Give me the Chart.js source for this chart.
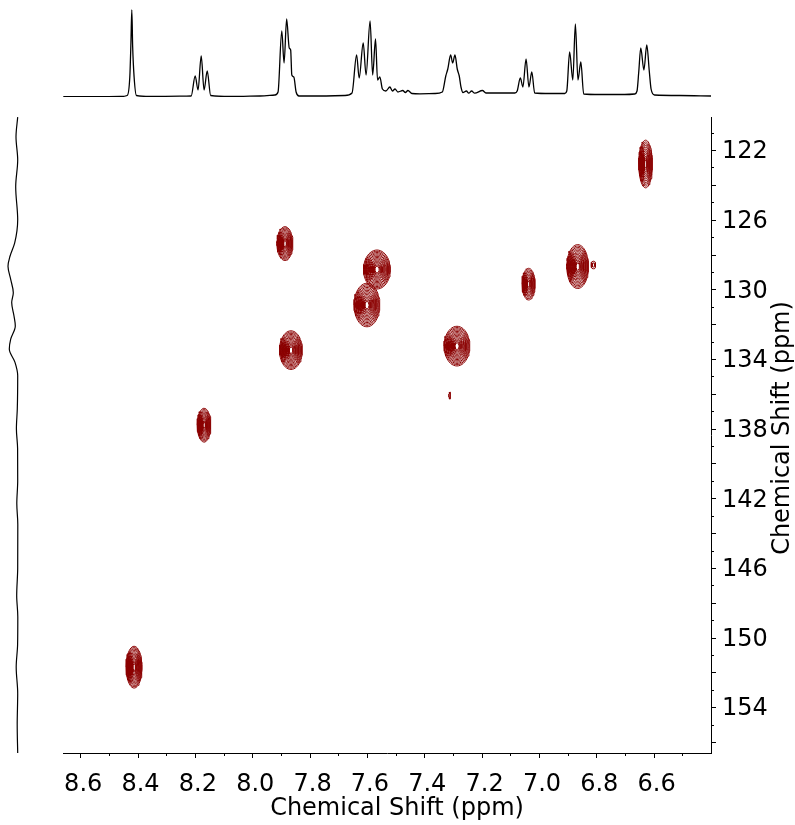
<!DOCTYPE html>
<html>
<head>
<meta charset="utf-8">
<script src="https://cdn.jsdelivr.net/npm/chart.js@4.4.1/dist/chart.umd.min.js"></script>
<style>
  html, body { margin: 0; padding: 0; background: #fff; }
  #wrap { position: relative; width: 795px; height: 825px; }
  canvas { position: absolute; left: 0; top: 0; }
</style>
</head>
<body>
<div id="wrap">
  <canvas id="hsqc" width="795" height="825"></canvas>
  <canvas id="proton" width="795" height="110"></canvas>
  <canvas id="carbon" width="40" height="825"></canvas>
</div>
<script>
// axis ranges (ppm)
const xMin = 6.40, xMax = 8.66;
const yMin = 120.1, yMax = 156.63;
const xTickLabels = [8.6, 8.4, 8.2, 8.0, 7.8, 7.6, 7.4, 7.2, 7.0, 6.8, 6.6];
const yTickLabels = [122, 126, 130, 134, 138, 142, 146, 150, 154];

// 1H projection (top trace)
const protonShift = [
  8.659, 8.55, 8.46, 8.436, 8.427, 8.423, 8.420, 8.417, 8.412, 8.404,
  8.356, 8.252, 8.213, 8.199, 8.189, 8.178, 8.168, 8.157, 8.145,
  8.077, 7.973, 7.921, 7.910, 7.897, 7.889, 7.880, 7.871, 7.866, 7.862, 7.855, 7.847, 7.837,
  7.764, 7.677, 7.652, 7.636, 7.627, 7.613, 7.603, 7.589, 7.580, 7.570, 7.563, 7.555, 7.546,
  7.534, 7.520, 7.511, 7.502, 7.492, 7.475, 7.466, 7.457, 7.443,
  7.415, 7.363, 7.337, 7.325, 7.318, 7.308, 7.301, 7.293, 7.285, 7.278, 7.272, 7.265,
  7.253, 7.245, 7.235, 7.224, 7.197, 7.185,
  7.137, 7.084, 7.076, 7.065, 7.056, 7.045, 7.035, 7.025, 7.015,
  6.962, 6.910, 6.903, 6.893, 6.882, 6.873, 6.864, 6.854, 6.844,
  6.788, 6.701, 6.666, 6.658, 6.652, 6.645, 6.634, 6.624, 6.615, 6.609, 6.597,
  6.509, 6.40
];
const protonIntensity = [
  0.3, 0.3, 0.5, 1.5, 20, 55, 87, 50, 20, 1.5,
  0.5, 0.8, 1, 21, 7, 41, 7, 26, 1.5,
  0.5, 1.0, 2, 5, 66, 34, 78, 49, 47, 22, 20, 5, 1,
  1, 1.5, 4, 42, 19, 54, 22, 76, 22, 58, 17, 20, 8,
  6, 10, 6, 8, 5, 6.5, 4.5, 6.5, 3.5,
  3.2, 3.5, 5, 21, 28, 42, 34, 42, 28, 21, 10, 4.5,
  6, 3.8, 6, 3.8, 6.5, 4,
  4, 4, 6, 19, 10, 38, 10, 25, 4,
  3.5, 3.5, 6, 45, 17, 73, 17, 35, 3,
  2.5, 2.5, 3, 6, 25, 49, 27, 52, 25, 8, 2,
  1.5, 1
];

// 13C projection (left trace)
const carbonShift = [
  120.11, 121.24, 122.57, 124.1, 126.0, 127.33, 128.1, 128.67, 129.43, 130.19,
  130.76, 131.53, 132.1, 132.86, 133.43, 134.19, 134.95, 136.86, 138.0, 139.14,
  141.0, 142.3, 143.5, 146.0, 147.6, 148.8, 150.4, 151.7, 153.2, 155.0, 156.63
];
const carbonIntensity = [
  0.3, 2.0, 0.3, 2.3, 0.3, 3.3, 8, 10, 7.3, 4.7,
  6.3, 4, 2.7, 7.3, 8.7, 3, 0.3, 0.7, 1.6, 0.4,
  0.3, 1.2, 0.2, 0.3, 1.3, 0.2, 0.4, 1.8, 0.3, 0.8, 0.3
];

// HSQC cross peaks: 1H shift, 13C shift, half widths, contour levels
const peakH = [8.412, 8.168, 7.886, 7.865, 7.565, 7.600, 7.286, 7.311, 7.036, 6.865, 6.810, 6.628];
const peakC = [151.7, 137.8, 127.37, 133.49, 128.86, 130.9, 133.26, 136.1, 129.7, 128.69, 128.6, 122.8];
const peakWidthH = [0.028, 0.024, 0.028, 0.040, 0.047, 0.045, 0.045, 0.003, 0.023, 0.038, 0.008, 0.024];
const peakWidthC = [1.2, 0.97, 0.97, 1.11, 1.12, 1.25, 1.14, 0.2, 0.91, 1.26, 0.22, 1.37];
const peakLevels = [14, 12, 12, 14, 14, 14, 14, 1, 10, 14, 2, 12];

const FONT = 'DejaVu Sans';
const contourColor = '#8b0000';

function contourRings(i) {
  const pts = [];
  const n = peakLevels[i];
  for (let k = 0; k < n; k++) {
    const s = 1 - (k / n) * 0.9;
    for (let a = 0; a <= 48; a++) {
      const t = (a / 48) * 2 * Math.PI;
      pts.push({
        x: peakH[i] + peakWidthH[i] * s * Math.cos(t),
        y: peakC[i] + peakWidthC[i] * s * Math.sin(t)
      });
    }
    pts.push({ x: null, y: null });
  }
  return pts;
}

// tick marks (major/minor) and axis titles
const axisDecor = {
  id: 'axisDecor',
  afterDraw(chart) {
    const { ctx, chartArea, scales: { x, y } } = chart;
    ctx.save();
    ctx.strokeStyle = '#000';
    ctx.lineWidth = 1;
    ctx.beginPath();
    for (let v = 65; v <= 86; v++) {
      const px = Math.round(x.getPixelForValue(v / 10)) + 0.5;
      const len = v % 2 === 0 ? 5 : 3;
      ctx.moveTo(px, chartArea.bottom);
      ctx.lineTo(px, chartArea.bottom + len);
    }
    for (let v = 121; v <= 156; v++) {
      const py = Math.round(y.getPixelForValue(v)) + 0.5;
      const len = v % 2 === 0 ? 5 : 3;
      ctx.moveTo(chartArea.right, py);
      ctx.lineTo(chartArea.right + len, py);
    }
    ctx.stroke();

    ctx.fillStyle = '#000';
    ctx.font = '24px "' + FONT + '"';
    ctx.textAlign = 'center';
    ctx.textBaseline = 'middle';
    ctx.fillText('Chemical Shift (ppm)', 397, 809);
    ctx.translate(783, 428);
    ctx.rotate(-Math.PI / 2);
    ctx.fillText('Chemical Shift (ppm)', 0, 0);
    ctx.restore();
  }
};

Chart.defaults.font.family = FONT;
Chart.defaults.animation = false;

new Chart(document.getElementById('hsqc'), {
  type: 'scatter',
  data: {
    datasets: peakH.map((h, i) => ({
      data: contourRings(i),
      showLine: true,
      borderColor: contourColor,
      borderWidth: 1,
      pointRadius: 0,
      spanGaps: false
    }))
  },
  options: {
    responsive: false,
    devicePixelRatio: 1,
    layout: { padding: { left: 63, top: 117, right: 0, bottom: 8 } },
    plugins: { legend: { display: false }, tooltip: { enabled: false } },
    scales: {
      x: {
        type: 'linear', min: xMin, max: xMax, reverse: true,
        grid: { display: false, drawTicks: false },
        border: { display: true, color: '#000', width: 1 },
        afterBuildTicks: s => { s.ticks = xTickLabels.map(v => ({ value: v })); },
        afterFit: s => { s.height = 64; },
        ticks: {
          color: '#000', font: { size: 24 }, padding: 17, labelOffset: 3,
          maxRotation: 0, autoSkip: false,
          callback: v => v.toFixed(1)
        }
      },
      y: {
        type: 'linear', position: 'right', min: yMin, max: yMax, reverse: true,
        grid: { display: false, drawTicks: false },
        border: { display: true, color: '#000', width: 1 },
        afterBuildTicks: s => { s.ticks = yTickLabels.map(v => ({ value: v })); },
        afterFit: s => { s.width = 84; },
        ticks: {
          color: '#000', font: { size: 24 }, padding: 11, labelOffset: 2,
          autoSkip: false,
          callback: v => String(v)
        }
      }
    }
  },
  plugins: [axisDecor]
});

new Chart(document.getElementById('proton'), {
  type: 'line',
  data: {
    datasets: [{
      data: protonShift.map((s, i) => ({ x: s, y: protonIntensity[i] })),
      borderColor: '#000',
      borderWidth: 1.3,
      pointRadius: 0,
      cubicInterpolationMode: 'monotone'
    }]
  },
  options: {
    responsive: false,
    devicePixelRatio: 1,
    layout: { padding: { left: 63, right: 84, top: 7, bottom: 13 } },
    plugins: { legend: { display: false }, tooltip: { enabled: false } },
    scales: {
      x: { type: 'linear', min: xMin, max: xMax, reverse: true, display: false },
      y: { type: 'linear', min: 0, max: 90, display: false }
    }
  }
});

new Chart(document.getElementById('carbon'), {
  type: 'line',
  data: {
    datasets: [{
      data: carbonShift.map((s, i) => ({ x: carbonIntensity[i], y: s })),
      borderColor: '#000',
      borderWidth: 1.2,
      pointRadius: 0,
      cubicInterpolationMode: 'monotone'
    }]
  },
  options: {
    indexAxis: 'y',
    responsive: false,
    devicePixelRatio: 1,
    layout: { padding: { left: 0, right: 20, top: 117, bottom: 72 } },
    plugins: { legend: { display: false }, tooltip: { enabled: false } },
    scales: {
      x: { type: 'linear', min: -2, max: 18, reverse: true, display: false },
      y: { type: 'linear', min: yMin, max: yMax, reverse: true, display: false }
    }
  }
});
</script>
</body>
</html>
